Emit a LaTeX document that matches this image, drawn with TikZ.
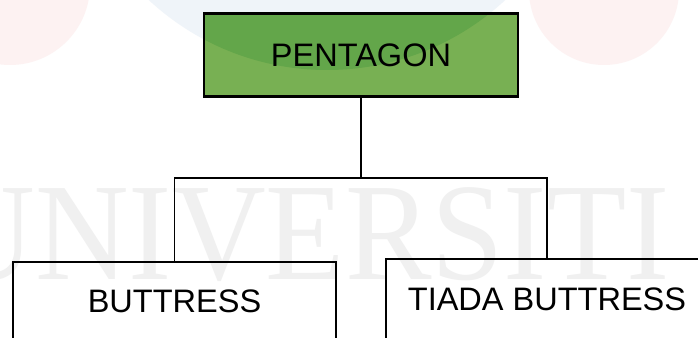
\documentclass[tikz,border=0pt]{standalone}
\usepackage{fontspec}
\setmainfont{Liberation Sans}
\newfontfamily\wmfont{Liberation Serif}
\usepackage{tikz}
\usetikzlibrary{positioning,calc}
\definecolor{leaf}{RGB}{120,176,83}
\definecolor{leafdark}{RGB}{99,166,74}
\definecolor{wmgray}{RGB}{240,240,240}
\definecolor{wmpink}{RGB}{253,242,242}
\definecolor{wmblue}{RGB}{239,244,249}
\tikzset{
  every picture/.style={font=\fontsize{18.5}{22}\selectfont},
  link/.style={line width=1.1pt},
  box/.style={draw,line width=1.4pt,inner xsep=0pt,inner ysep=0pt},
  head/.style={box,line width=1.7pt,fill=leaf,minimum width=6.28cm,minimum height=1.65cm},
  leafbox/.style={box,anchor=north,text height=1.02cm,text depth=1cm},
  wm/.style={wmgray,inner sep=0pt,font=\wmfont\fontsize{79}{79}\selectfont},
}

\begin{document}
\begin{tikzpicture}
  \path[use as bounding box,clip] (0,0) rectangle (13.96,6.76);
  \fill[white] (0,0) rectangle (13.96,6.76);
  \fill[wmpink] (0.2,7.06) circle (1.6);
  \fill[wmpink] (12.08,6.96) circle (1.5);
  \fill[wmblue] (6.54,10.6) circle (5.24);
  \node[wm,anchor=base west] (wmark) at (-1.18,1.16) {\scalebox{0.935}[1]{UNIVERSITI}};
  \node[head,path picture={\fill[leafdark] ($(path picture bounding box.center)+(-0.68,4.94)$) circle (5.24);}] (pent) at (7.22,5.66) {PENTAGON};
  \node[leafbox,minimum width=6.46cm] (btr) at (3.49,1.546) {BUTTRESS};
  \node[leafbox,minimum width=6.44cm] (nobtr) at (10.94,1.6) {TIADA BUTTRESS};
  \draw[link] (pent.south) -- ++(0,-1.6) coordinate (fork);
  \draw[link] (btr.north) |- (fork) -| (nobtr.north);
\end{tikzpicture}
\end{document}
